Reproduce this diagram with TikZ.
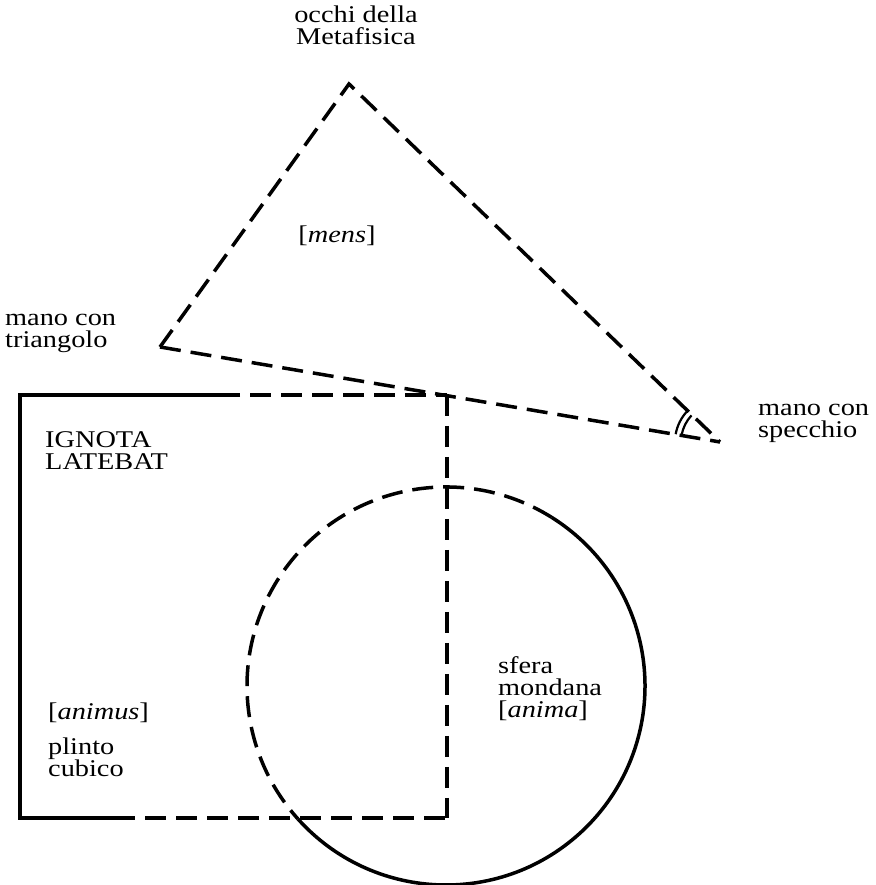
\documentclass[tikz,border=0pt]{standalone}
\usepackage{fontspec}
\setmainfont{Liberation Serif}[FakeStretch=1.18]
\begin{document}
\begin{tikzpicture}[x=1pt,y=1pt,
  edge/.style={line width=3.5pt, line cap=butt},
  dsh/.style={edge, dash pattern=on 21pt off 10pt},
  gapfirst/.style={dash phase=21pt},
  lbl/.style={inner sep=0pt, font=\fontsize{24}{22}\selectfont, align=left},
  anglemark/.style={line width=2.2pt}
]
\useasboundingbox (0,0) rectangle (875,885);
\coordinate (A) at (349,801);
\coordinate (L) at (160,538);
\coordinate (R) at (720,443);
\coordinate (TL) at (20,490);
\coordinate (TR) at (447,490);
\coordinate (BL) at (20,67);
\coordinate (BR) at (447,67);
\coordinate (TS) at (240,490);
\coordinate (BS) at (135,67);
\coordinate (O) at (446,199);

\draw[dsh, line join=miter] (L) -- (A) -- (R);
\draw[dsh] (L) -- (R);
\draw[edge, line join=miter] (TS) -- (TL) -- (BL) -- (BS);
\draw[dsh, gapfirst] (TS) -- (TR);
\draw[dsh] (TR) -- (BR);
\draw[dsh, gapfirst] (BS) -- (BR);
\draw[dsh] ([shift={(58:199pt)}]O) arc[start angle=58, end angle=222, radius=199pt];
\draw[edge] ([shift={(222:199pt)}]O) arc[start angle=222, end angle=418, radius=199pt];
\draw[anglemark] ([shift={(137:39pt)}]R) arc[start angle=137, end angle=170, radius=39pt];
\draw[anglemark] ([shift={(137:45pt)}]R) arc[start angle=137, end angle=170, radius=45pt];

\node[lbl, anchor=base, align=center] (occhi) at (356,840) {occhi della\\Metafisica};
\node[lbl, anchor=base] (mens) at (337,642) {[\textit{mens}]};
\node[lbl, anchor=base west] (triang) at (5,537) {mano con\\triangolo};
\node[lbl, anchor=base west] (specch) at (758,447) {mano con\\specchio};
\node[lbl, anchor=base west] (ignota) at (45,415) {IGNOTA\\LATEBAT};
\node[lbl, anchor=base west] (animus) at (48,165) {[\textit{animus}]};
\node[lbl, anchor=base west] (plinto) at (48,108) {plinto\\cubico};
\node[lbl, anchor=base west] (sfera) at (498,167) {sfera\\mondana\\{[}\textit{anima}{]}};
\end{tikzpicture}
\end{document}
